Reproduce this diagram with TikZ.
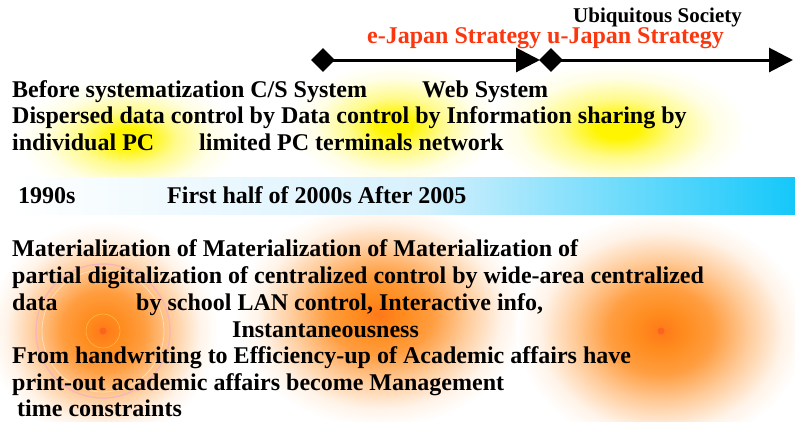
\documentclass[tikz,border=0pt]{standalone}
\usepackage{fontspec}
\setmainfont{Liberation Serif}
\usetikzlibrary{shapes.geometric,arrows.meta}

\definecolor{glowY}{RGB}{255,245,0}
\definecolor{glowO}{RGB}{255,140,30}
\definecolor{glowCore}{RGB}{255,120,25}
\definecolor{dotO}{RGB}{250,100,30}
\definecolor{strat}{RGB}{250,55,15}
\definecolor{bandEnd}{RGB}{20,200,250}
\definecolor{bandMid}{RGB}{215,241,253}
\definecolor{ringPink}{RGB}{245,180,190}
\definecolor{ringGold}{RGB}{255,200,90}

% soft spots of colour behind the text (the path box spans -25bp..25bp)
\pgfdeclareradialshading{yglow}{\pgfpointorigin}{color(0bp)=(glowY); color(4bp)=(glowY); color(11bp)=(glowY!45!white); color(19bp)=(glowY!10!white); color(25bp)=(white); color(50bp)=(white)}
\pgfdeclareradialshading{oglow}{\pgfpointorigin}{color(0bp)=(glowCore); color(4bp)=(glowO); color(9bp)=(glowO!85!white); color(15bp)=(glowO!45!white); color(21bp)=(glowO!10!white); color(25bp)=(white); color(50bp)=(white)}

\begin{document}
\begin{tikzpicture}[x=1bp,y=-1bp,
  txt/.style={anchor=base west, inner sep=0pt, font=\fontsize{24bp}{27bp}\selectfont\bfseries},
  stratxt/.style={txt, text=strat},
  smalltxt/.style={anchor=base west, inner sep=0pt, font=\fontsize{21bp}{24bp}\selectfont\bfseries},
  milestone/.style={diamond, fill=black, inner sep=0pt, minimum width=24bp, minimum height=24bp},
  timeline/.style={line width=3bp, -{Triangle[length=24bp,width=24bp]}}]

\useasboundingbox (0,0) rectangle (795,421);
\fill[white] (0,0) rectangle (795,421);

% yellow spots (upper rows)
\shade[shading=yglow] (128,138) ellipse [x radius=110, y radius=60];
\shade[shading=yglow] (395,125) ellipse [x radius=105, y radius=62];
\shade[shading=yglow] (617,128) ellipse [x radius=130, y radius=66];

% orange spots (lower rows)
\shade[shading=oglow] (103,331) ellipse [x radius=115, y radius=110];
\shade[shading=oglow] (380,315) ellipse [x radius=145, y radius=112];
\shade[shading=oglow] (661,331) ellipse [x radius=145, y radius=118];
\draw[ringPink, line width=1.2bp] (103,331) circle (67);
\draw[ringGold!60!glowO!40!white, line width=0.8bp] (103,331) circle (61);
\draw[ringGold!70!glowO, line width=0.6bp] (103,331) circle (17);
\fill[dotO] (103,331) circle (3.5);
\fill[dotO] (661,331) circle (3.5);

% period band: pale on the left, deepening to cyan on the right
\shade[left color=white, right color=bandMid] (10,177) rectangle (420.5,214);
\shade[left color=bandMid, right color=bandEnd] (420,177) rectangle (795,214);

% strategy timeline
\node[milestone] (d1) at (323,60) {};
\node[milestone] (d2) at (551,60) {};
\coordinate (e1) at (540,60);
\coordinate (e2) at (793,60);
\draw[timeline] (d1.center) -- (e1);
\draw[timeline] (d2.center) -- (e2);

\node[smalltxt] (ubi) at (573,22) {Ubiquitous Society};
\node[stratxt] (strategy) at (367,43) {e-Japan Strategy u-Japan Strategy};

% systems
\node[txt] (sysA) at (12,97) {Before systematization C/S System};
\node[txt] (sysB) at (422,97) {Web System};
\node[txt] (ctlA) at (12,123) {Dispersed data control by Data control by Information sharing by};
\node[txt] (ctlB) at (12,150) {individual PC};
\node[txt] (ctlC) at (199,150) {limited PC terminals network};

% periods
\node[txt] (perA) at (18,203) {1990s};
\node[txt] (perB) at (167,203) {First half of 2000s After 2005};

% outcomes
\node[txt] (outA) at (12,256) {Materialization of Materialization of Materialization of};
\node[txt] (outB) at (12,283) {partial digitalization of centralized control by wide-area centralized};
\node[txt] (outC) at (12,310) {data};
\node[txt] (outD) at (136,310) {by school LAN control, Interactive info,};
\node[txt] (outE) at (232,337) {Instantaneousness};
\node[txt] (outF) at (12,363) {From handwriting to Efficiency-up of Academic affairs have};
\node[txt] (outG) at (12,390) {print-out academic affairs become Management};
\node[txt] (outH) at (17,416) {time constraints};
\end{tikzpicture}
\end{document}
